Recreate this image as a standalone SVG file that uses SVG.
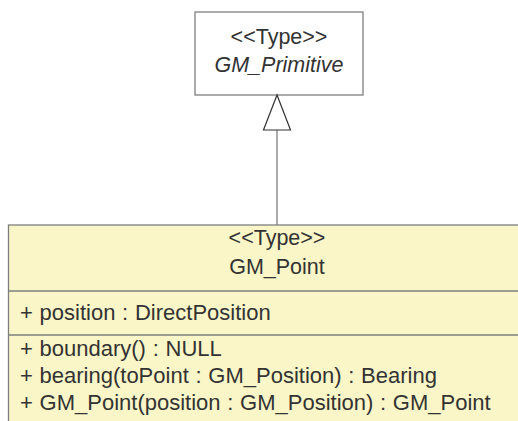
<svg xmlns="http://www.w3.org/2000/svg" width="518" height="421" viewBox="0 0 518 421">
<style>
text{font-family:"Liberation Sans",Arial,sans-serif;font-size:21.5px;fill:#333333}
.m{font-size:22px;word-spacing:0.6px}
.c{text-anchor:middle}
.i{font-style:italic}
.box{stroke:#7f7f7f;stroke-width:1.3}
</style>
<rect width="518" height="421" fill="#ffffff"/>
<g id="GM_Primitive">
<rect class="box" x="195" y="12" width="168" height="83" fill="#ffffff"/>
<text class="c" x="279" y="44">&lt;&lt;Type&gt;&gt;</text>
<text class="c i" x="279" y="72">GM_Primitive</text>
</g>
<g id="GM_Point">
<rect class="box" x="8.5" y="225" width="530" height="220" fill="#faf6c8"/>
<line class="box" x1="8.5" y1="291" x2="518" y2="291"/>
<line class="box" x1="8.5" y1="335" x2="518" y2="335"/>
<text class="c" x="277" y="245">&lt;&lt;Type&gt;&gt;</text>
<text class="c" x="277" y="274">GM_Point</text>
<text class="m" x="20" y="320">+ position : DirectPosition</text>
<text class="m" x="20" y="356">+ boundary() : NULL</text>
<text class="m" x="20" y="383">+ bearing(toPoint : GM_Position) : Bearing</text>
<text class="m" x="20" y="410">+ GM_Point(position : GM_Position) : GM_Point</text>
</g>
<g id="connectors">
<line x1="277" y1="225" x2="277" y2="130" stroke="#7f7f7f" stroke-width="1.3"/>
<polygon points="277,95 263.5,130 290.5,130" fill="#ffffff" stroke="#333333" stroke-width="1.2"/>
</g>
</svg>
